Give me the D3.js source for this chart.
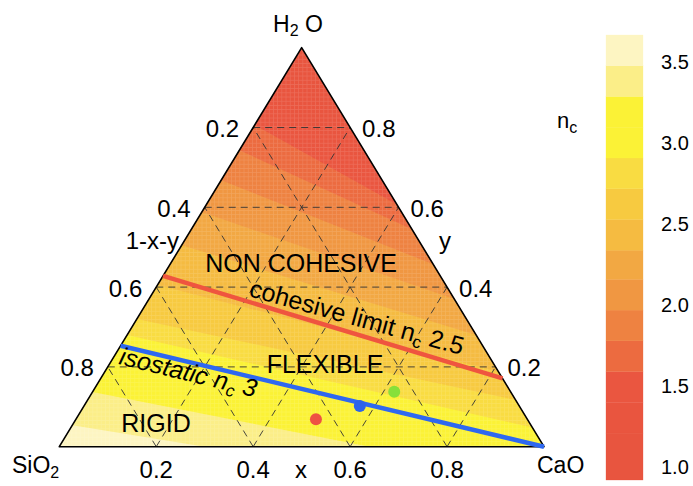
<!DOCTYPE html>
<html>
<head>
<meta charset="utf-8">
<script src="https://cdn.jsdelivr.net/npm/d3@7"></script>
<style>
    body { margin: 0; background: #fff; }
    svg text { font-family: "Liberation Sans", Arial, Helvetica, sans-serif; fill: #000; }
</style>
</head>
<body>
<svg id="chart" width="693" height="486"></svg>
<script>
// n_c colour bands, low to high
const bandBreaks = [0.92, 1.21, 1.40, 1.59, 1.78, 1.97, 2.16, 2.34, 2.53, 2.72, 2.91, 3.10, 3.29, 3.48, 3.67];
const bandColors = ['#e8553f', '#e9553f', '#ea5640', '#ec6b40', '#ee8241', '#f09742', '#f2a843',
    '#f5bb41', '#f7ca40', '#f9dc42', '#fbf236', '#fbf236', '#fbee88', '#fdf5c2'];
const colorTicks = [1.0, 1.5, 2.0, 2.5, 3.0, 3.5];

// where each inner band limit crosses the triangle, as [x (CaO), y (H2O)]
const contourLevels = [1.21, 1.40, 1.59, 1.78, 1.97, 2.16, 2.34, 2.53, 2.72, 2.91, 3.10, 3.29, 3.48];
const contourStart = [[0, 0.93], [0, 0.87], [0, 0.806], [0, 0.743], [0, 0.668], [0, 0.588], [0, 0.505],
    [0, 0.405], [0, 0.32], [0, 0.28], [0, 0.21], [0, 0.137], [0, 0.054]];
const contourEnd = [[0.21, 0.79], [0.31, 0.69], [0.393, 0.607], [0.455, 0.545], [0.543, 0.457], [0.63, 0.37],
    [0.72, 0.28], [0.812, 0.188], [0.883, 0.117], [0.952, 0.048], [0.85, 0], [0.64, 0], [0.30, 0]];

// the two limit lines
const cohesiveLine = [[0, 0.428], [0.829, 0.171]];
const isostaticLine = [[0, 0.253], [1, 0]];

// the three compositions
const sampleX = [0.495, 0.569, 0.622];
const sampleY = [0.069, 0.102, 0.138];
const sampleColors = ['#ee5243', '#2b63ea', '#88e03a'];

const gridTicks = [0.2, 0.4, 0.6, 0.8];

const svg = d3.select('#chart');

const px = d3.scaleLinear().domain([0, 1]).range([59.3, 544]);
const py = d3.scaleLinear().domain([0, 1]).range([446.7, 47.7]);
const proj = d => [px(d[0] + d[1] / 2), py(d[1])];
const path = d3.line().x(d => proj(d)[0]).y(d => proj(d)[1]);

const SiO2 = [0, 0], CaO = [1, 0], H2O = [0, 1];

// raster seams in the colour field
const defs = svg.append('defs');
const pat = defs.append('pattern')
    .attr('id', 'raster')
    .attr('patternUnits', 'userSpaceOnUse')
    .attr('width', 4.2)
    .attr('height', 4.2);
pat.append('rect').attr('x', 0).attr('y', 0).attr('width', 0.7).attr('height', 4.2).attr('fill', '#fff');
pat.append('rect').attr('x', 0).attr('y', 0).attr('width', 4.2).attr('height', 0.7).attr('fill', '#fff');

const field = svg.append('g');
field.append('path')
    .attr('d', path([SiO2, CaO, H2O]) + 'Z')
    .attr('fill', bandColors[0]);

contourLevels.forEach((lev, i) => {
    const s = contourStart[i];
    const e = contourEnd[i];
    const pts = e[1] > 0 ? [s, SiO2, CaO, e] : [s, SiO2, e];
    field.append('path')
        .attr('d', path(pts) + 'Z')
        .attr('fill', bandColors[i + 1]);
});

field.append('path')
    .attr('d', path([SiO2, CaO, H2O]) + 'Z')
    .attr('fill', 'url(#raster)')
    .attr('opacity', 0.14);

// dashed grid
const grid = svg.append('g')
    .attr('fill', 'none')
    .attr('stroke', '#333')
    .attr('stroke-width', 0.9)
    .attr('stroke-dasharray', '7,5');

gridTicks.forEach(v => {
    grid.append('path').attr('d', path([[0, v], [1 - v, v]]));
    grid.append('path').attr('d', path([[v, 0], [v, 1 - v]]));
    grid.append('path').attr('d', path([[v, 0], [0, v]]));
});

// outline
svg.append('path')
    .attr('d', path([SiO2, CaO, H2O]) + 'Z')
    .attr('fill', 'none')
    .attr('stroke', '#000')
    .attr('stroke-width', 1.6)
    .attr('stroke-linejoin', 'round');

svg.append('path')
    .attr('d', path(cohesiveLine))
    .attr('stroke', '#ef553f')
    .attr('stroke-width', 4.5)
    .attr('fill', 'none');

svg.append('path')
    .attr('d', path(isostaticLine))
    .attr('stroke', '#2e68f0')
    .attr('stroke-width', 4.5)
    .attr('fill', 'none');

svg.selectAll('.sample')
    .data(sampleX)
    .enter()
    .append('circle')
    .attr('class', 'sample')
    .attr('cx', (d, i) => proj([d, sampleY[i]])[0])
    .attr('cy', (d, i) => proj([d, sampleY[i]])[1])
    .attr('r', 6)
    .attr('fill', (d, i) => sampleColors[i]);

// tick labels along the sides
const labels = svg.append('g').style('font-size', '24px');
gridTicks.forEach(v => {
    const l = proj([0, 1 - v]);
    labels.append('text').attr('x', l[0] - 14).attr('y', l[1] + 9.5)
        .attr('text-anchor', 'end').text(v.toFixed(1));
    const r = proj([1 - v, v]);
    labels.append('text').attr('x', r[0] + 12).attr('y', r[1] + 9.5)
        .attr('text-anchor', 'start').text(v.toFixed(1));
    const b = proj([v, 0]);
    labels.append('text').attr('x', b[0]).attr('y', b[1] + 31)
        .attr('text-anchor', 'middle').text(v.toFixed(1));
});

labels.append('text').attr('x', 179).attr('y', 249).attr('text-anchor', 'end').text('1-x-y');
labels.append('text').attr('x', 439).attr('y', 249).text('y');
labels.append('text').attr('x', 301).attr('y', 478).attr('text-anchor', 'middle').text('x');

// corner names
const h2o = labels.append('text').attr('x', 273).attr('y', 32).style('font-size', '23px');
h2o.append('tspan').text('H');
h2o.append('tspan').attr('dy', 4).style('font-size', '16px').text('2');
h2o.append('tspan').attr('dy', -4).text('\u00a0O');

const sio2 = labels.append('text').attr('x', 12).attr('y', 473).style('font-size', '23px');
sio2.append('tspan').text('SiO');
sio2.append('tspan').attr('dy', 5).style('font-size', '16px').text('2');

labels.append('text').attr('x', 537).attr('y', 473).style('font-size', '23px').text('CaO');

// region names
const regions = svg.append('g').style('font-size', '25px').attr('text-anchor', 'middle');
regions.append('text').attr('x', 301).attr('y', 271.5).text('NON COHESIVE');
regions.append('text').attr('x', 325).attr('y', 372.5).text('FLEXIBLE');
regions.append('text').attr('x', 156).attr('y', 431.5).text('RIGID');

const coh = svg.append('text')
    .attr('transform', 'translate(248,296) rotate(15.5)')
    .style('font-size', '25px');
coh.append('tspan').text('cohesive limit n');
coh.append('tspan').attr('dy', 5).style('font-size', '17px').text('c');
coh.append('tspan').attr('dy', -5).text(' 2.5');

const iso = svg.append('text')
    .attr('transform', 'translate(118,364) rotate(13.7)')
    .style('font-size', '25px')
    .style('font-style', 'italic');
iso.append('tspan').text('isostatic n');
iso.append('tspan').attr('dy', 5).style('font-size', '17px').text('c');
iso.append('tspan').attr('dy', -5).text(' 3');

// colour bar
const cy = d3.scaleLinear().domain([0.92, 3.67]).range([480, 35]);
const bar = svg.append('g');
bar.selectAll('rect')
    .data(bandColors)
    .enter()
    .append('rect')
    .attr('x', 606)
    .attr('width', 37)
    .attr('y', (d, i) => cy(bandBreaks[i + 1]))
    .attr('height', (d, i) => cy(bandBreaks[i]) - cy(bandBreaks[i + 1]))
    .attr('fill', d => d)
    .attr('stroke', d => d)
    .attr('stroke-width', 0.3);

const barAxis = svg.append('g')
    .attr('transform', 'translate(643,0)')
    .call(d3.axisRight(cy).tickValues(colorTicks).tickFormat(d3.format('.1f')).tickSize(0).tickPadding(18));
barAxis.select('.domain').remove();
barAxis.selectAll('text')
    .style('font-family', '"Liberation Sans", Arial, sans-serif')
    .style('font-size', '20px')
    .attr('fill', '#000');

const nc = svg.append('text').attr('x', 557).attr('y', 128).style('font-size', '22px');
nc.append('tspan').text('n');
nc.append('tspan').attr('dy', 5).style('font-size', '16px').text('c');
</script>
</body>
</html>
